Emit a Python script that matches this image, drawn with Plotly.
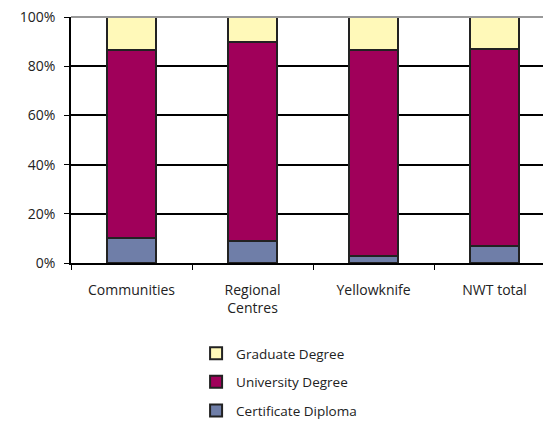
import plotly.graph_objects as go

categories = ["Communities", "Regional<br>Centres", "Yellowknife", "NWT total"]
certificate = [10, 9, 3, 7]
university = [76.5, 81, 83.5, 80]
graduate = [13.5, 10, 13.5, 13]

series = [
    ("Certificate Diploma", certificate, "#6f7ea8", 3),
    ("University Degree", university, "#a0005a", 2),
    ("Graduate Degree", graduate, "#fff9b9", 1),
]

fig = go.Figure()
for name, vals, col, rank in series:
    fig.add_trace(go.Bar(
        x=categories, y=vals, name=name, legendgroup=name, legendrank=rank,
        marker=dict(color=col, line=dict(color="#222222", width=2)),
        width=0.4,
    ))

fig.update_layout(
    barmode="stack",
    width=543, height=421,
    margin=dict(l=71, r=0, t=17, b=158, autoexpand=False),
    paper_bgcolor="white", plot_bgcolor="white",
    font=dict(family="Open Sans, Noto Sans, sans-serif", size=14, color="#222222"),
    showlegend=True,
    legend=dict(
        orientation="v", traceorder="grouped", tracegroupgap=8,
        x=0.265, xanchor="left", y=-0.305, yanchor="top",
        font=dict(size=13.5), itemwidth=30,
    ),
    xaxis=dict(
        range=[-0.5, 3.4], showline=True, linecolor="black", linewidth=1.5,
        ticks="outside", tickson="boundaries", ticklen=5, tickcolor="black",
        ticklabelstandoff=13, showgrid=False, automargin=False,
    ),
    yaxis=dict(
        range=[0, 100], dtick=20, ticksuffix="%",
        showline=True, linecolor="black", linewidth=1.5,
        ticks="outside", ticklen=5, tickcolor="black",
        showgrid=True, gridcolor="black", gridwidth=1.5,
        ticklabelstandoff=6, zeroline=False, automargin=False,
    ),
)

fig.add_shape(type="line", xref="paper", yref="paper", x0=0, x1=1, y0=1, y1=1,
              line=dict(color="#999999", width=2))

# drop the default 8px body margin so the figure sits at the page corner
fig.write_html("out.html", config={"displayModeBar": False},
               post_script="document.body.style.margin='0';")
